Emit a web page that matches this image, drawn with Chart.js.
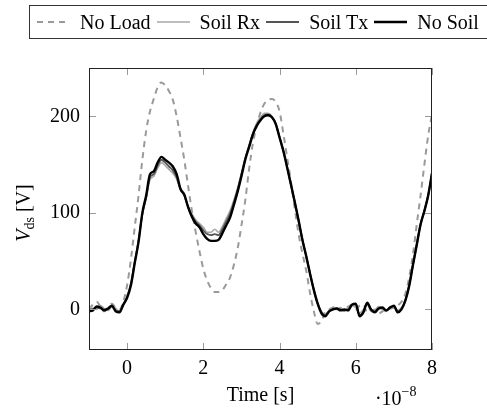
<!DOCTYPE html>
<html lang="en">
<head>
  <meta charset="UTF-8">
  <title>Vds over time</title>
  <script src="https://cdn.jsdelivr.net/npm/chart.js"></script>
  <style>
    body {
      margin: 0;
      background: #ffffff;
      font-family: "Liberation Serif", serif;
    }
    #wrap {
      position: relative;
      width: 487px;
      height: 411px;
      overflow: hidden;
    }
    #legend {
      position: absolute;
      left: 29px;
      top: 5px;
      height: 34px;
      width: 480px;
      border: 1px solid #333;
      display: flex;
      align-items: center;
      font-size: 20px;
      white-space: nowrap;
      padding-left: 7px;
      box-sizing: border-box;
    }
    #legend svg { margin-right: 10px; }
    #legend span { margin-right: 6px; }
    canvas { position: absolute; left: 0; top: 0; }
  </style>
</head>
<body>
<div id="wrap">
  <canvas id="vdsChart" width="487" height="411"></canvas>
  <div id="legend"></div>
</div>

<script>
  // time axis, in units of 1e-8 s
  const time = [
    -1.0, -0.9, -0.8, -0.7, -0.6, -0.5, -0.4, -0.3, -0.2, -0.1,
    0.0, 0.1, 0.2, 0.3, 0.4, 0.5, 0.6, 0.7, 0.8, 0.9,
    1.0, 1.1, 1.2, 1.3, 1.4, 1.5, 1.6, 1.7, 1.8, 1.9,
    2.0, 2.1, 2.2, 2.3, 2.4, 2.5, 2.6, 2.7, 2.8, 2.9,
    3.0, 3.1, 3.2, 3.3, 3.4, 3.5, 3.6, 3.7, 3.8, 3.9,
    4.0, 4.1, 4.2, 4.3, 4.4, 4.5, 4.6, 4.7, 4.8, 4.9,
    5.0, 5.1, 5.2, 5.3, 5.4, 5.5, 5.6, 5.7, 5.8, 5.9,
    6.0, 6.1, 6.2, 6.3, 6.4, 6.5, 6.6, 6.7, 6.8, 6.9,
    7.0, 7.1, 7.2, 7.3, 7.4, 7.5, 7.6, 7.7, 7.8, 7.9,
    8.0
  ];

  const noLoad = [
    0, 5, 8, 3, -2, 2, 6, 2, 0, 8,
    25, 52, 85, 118, 155, 185, 205, 218, 230, 235,
    232, 226, 217, 200, 178, 155, 128, 102, 80, 60,
    42, 30, 22, 18, 18, 20, 26, 33, 46, 63,
    87, 113, 145, 172, 190, 204, 213, 217, 218, 215,
    205, 182, 157, 132, 104, 78, 58, 40, 17, -2,
    -15, -12, -3, 0, 2, 3, 1, -2, 3, 4,
    0, 4, 5, -3, -2, 0, -4, -2, 2, 1,
    2, 4, 8, 16, 33, 57, 88, 118, 150, 180,
    202
  ];

  const soilRx = [
    2, 1, 0, 4, 1, -1, 3, 1, -2, 4,
    14, 28, 50, 72, 98, 115, 134, 138, 146, 152,
    149, 145, 141, 135, 124, 118, 107, 99, 93, 89,
    85, 80, 80, 83, 80, 86, 94, 102, 113, 126,
    141, 157, 170, 183, 193, 199, 203, 203, 200, 193,
    179, 164, 147, 129, 111, 92, 73, 55, 37, 21,
    7, -2, -5, -1, 1, 0, 2, -2, 2, 4,
    2, -4, 0, 5, -2, -1, 3, 0, -2, 3,
    2, -1, 2, 10, 26, 47, 68, 89, 103, 119,
    142
  ];

  const soilTx = [
    0, 0, 2, 1, 0, 0, 3, -1, -2, 5,
    13, 26, 49, 71, 99, 116, 137, 140, 149, 155,
    152, 148, 144, 137, 124, 118, 106, 97, 91, 87,
    82, 78, 77, 78, 77, 83, 91, 99, 111, 124,
    140, 156, 169, 182, 191, 197, 201, 202, 199, 192,
    178, 164, 147, 129, 111, 92, 72, 55, 37, 20,
    6, -3, -6, -2, 0, 1, 0, -1, 0, 5,
    5, -6, -2, 6, 0, -2, 1, 1, -1, 2,
    3, -2, 1, 9, 25, 46, 67, 88, 102, 118,
    141
  ];

  const noSoil = [
    -2, -1, 3, 2, -1, 1, 4, -2, -3, 5,
    12, 25, 48, 70, 100, 118, 140, 143, 152, 158,
    155, 152, 148, 140, 125, 119, 106, 96, 89, 85,
    78, 73, 71, 71, 72, 79, 87, 95, 108, 122,
    138, 155, 168, 181, 190, 196, 200, 201, 199, 192,
    178, 164, 147, 129, 111, 92, 72, 55, 37, 20,
    6, -4, -7, -2, 0, 1, -1, 0, -1, 5,
    6, -7, -3, 7, 0, -3, 1, 2, -1, 2,
    4, -3, 0, 9, 24, 46, 67, 88, 102, 118,
    141
  ];

  const xTicks = [0, 2, 4, 6, 8];
  const yTicks = [0, 100, 200];

  const FONT = '"Liberation Serif", serif';

  const toPoints = vals => vals.map((v, i) => ({ x: time[i], y: v }));

  const series = [
    { label: 'No Load', data: noLoad, color: '#9a9a9a', width: 2, dash: [6, 5], order: 3 },
    { label: 'Soil Rx', data: soilRx, color: '#a8a8a8', width: 1.6, dash: [], order: 2 },
    { label: 'Soil Tx', data: soilTx, color: '#555555', width: 1.8, dash: [], order: 1 },
    { label: 'No Soil', data: noSoil, color: '#000000', width: 2.4, dash: [], order: 0 }
  ];

  // legend as html, like the pgfplots legend box
  const legend = document.getElementById('legend');
  series.forEach(s => {
    const dash = s.dash.length ? ` stroke-dasharray="${s.dash.join(',')}"` : '';
    legend.insertAdjacentHTML('beforeend',
      `<svg width="33" height="10"><line x1="0" y1="5" x2="33" y2="5" stroke="${s.color}" stroke-width="${s.width}"${dash}/></svg><span>${s.label}</span>`);
  });

  // inward ticks on all four sides, the box, y title with subscript, x scale factor
  const framePlugin = {
    id: 'frame',
    afterDraw(chart) {
      const { ctx, chartArea: a, scales: { x, y } } = chart;
      ctx.save();
      ctx.strokeStyle = '#9a9a9a';
      ctx.lineWidth = 1;
      ctx.beginPath();
      x.ticks.forEach(t => {
        const px = Math.round(x.getPixelForValue(t.value)) + 0.5;
        ctx.moveTo(px, a.bottom); ctx.lineTo(px, a.bottom - 7);
        ctx.moveTo(px, a.top); ctx.lineTo(px, a.top + 7);
      });
      y.ticks.forEach(t => {
        const py = Math.round(y.getPixelForValue(t.value)) + 0.5;
        ctx.moveTo(a.left, py); ctx.lineTo(a.left + 7, py);
        ctx.moveTo(a.right, py); ctx.lineTo(a.right - 7, py);
      });
      ctx.stroke();
      ctx.strokeStyle = '#222';
      ctx.strokeRect(a.left + 0.5, a.top + 0.5, a.width - 1, a.height - 1);

      // y axis title: V_ds [V]
      const parts = [
        { t: 'V', f: 'italic 20px ' + FONT, dy: 0 },
        { t: 'ds', f: '14px ' + FONT, dy: 4 },
        { t: ' [V]', f: '20px ' + FONT, dy: 0 }
      ];
      ctx.fillStyle = '#000';
      ctx.textBaseline = 'alphabetic';
      ctx.textAlign = 'left';
      let total = 0;
      parts.forEach(p => { ctx.font = p.f; p.w = ctx.measureText(p.t).width; total += p.w; });
      ctx.translate(30, (a.top + a.bottom) / 2 + 4);
      ctx.rotate(-Math.PI / 2);
      let cx = -total / 2;
      parts.forEach(p => { ctx.font = p.f; ctx.fillText(p.t, cx, p.dy); cx += p.w; });
      ctx.setTransform(1, 0, 0, 1, 0, 0);

      // scale factor label at 90% of the x axis
      ctx.font = '20px ' + FONT;
      const base = '\u00b710';
      const wb = ctx.measureText(base).width;
      ctx.font = '14px ' + FONT;
      const we = ctx.measureText('\u22128').width;
      const sx = a.left + 0.9 * a.width - (wb + we) / 2 - 2;
      ctx.font = '20px ' + FONT;
      ctx.fillText(base, sx, 405);
      ctx.font = '14px ' + FONT;
      ctx.fillText('\u22128', sx + wb, 396);
      ctx.restore();
    }
  };

  const ctx = document.getElementById('vdsChart').getContext('2d');
  const vdsChart = new Chart(ctx, {
    type: 'line',
    data: {
      datasets: series.map(s => ({
        label: s.label,
        data: toPoints(s.data),
        borderColor: s.color,
        borderWidth: s.width,
        borderDash: s.dash,
        order: s.order,
        fill: false
      }))
    },
    options: {
      responsive: false,
      animation: false,
      layout: { padding: { top: 68, right: 55, left: 0, bottom: 0 } },
      elements: {
        point: { radius: 0 },
        line: { cubicInterpolationMode: 'monotone' }
      },
      plugins: {
        legend: { display: false },
        tooltip: { enabled: false }
      },
      scales: {
        x: {
          type: 'linear',
          min: -1,
          max: 8,
          afterBuildTicks: s => { s.ticks = xTicks.map(v => ({ value: v })); },
          afterFit: s => { s.height = 61; },
          grid: { display: false, drawTicks: false },
          border: { display: false },
          ticks: { color: '#000', font: { family: FONT, size: 20 }, padding: 7, maxRotation: 0, autoSkip: false },
          title: {
            display: true,
            text: 'Time [s]',
            color: '#000',
            font: { family: FONT, size: 20 },
            padding: { top: 0, bottom: 3 }
          }
        },
        y: {
          min: -42,
          max: 250,
          afterBuildTicks: s => { s.ticks = yTicks.map(v => ({ value: v })); },
          afterFit: s => { s.width = 89; },
          grid: { display: false, drawTicks: false },
          border: { display: false },
          ticks: { color: '#000', font: { family: FONT, size: 20 }, padding: 9 }
        }
      }
    },
    plugins: [framePlugin]
  });
</script>
</body>
</html>
